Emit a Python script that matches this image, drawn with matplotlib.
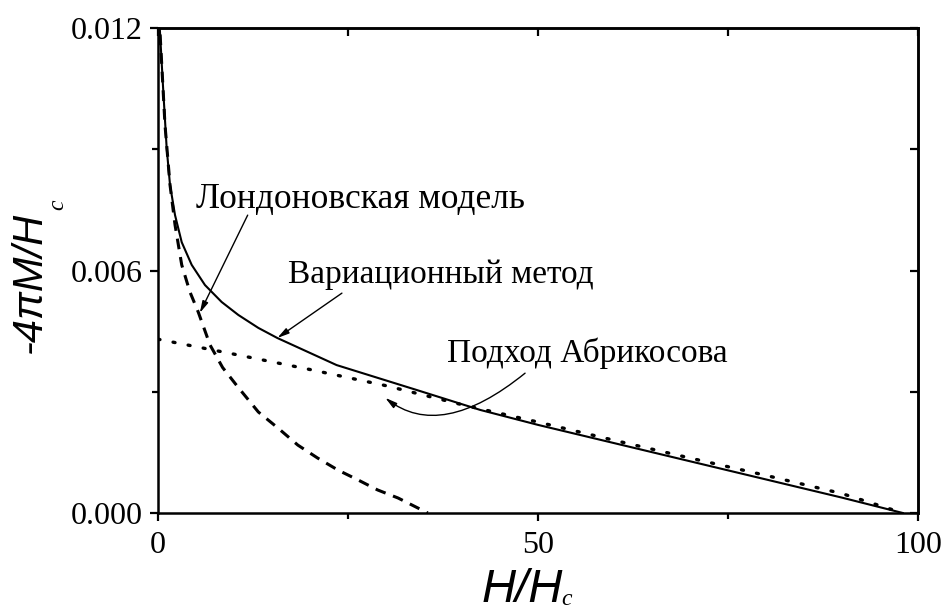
import numpy as np
import matplotlib
matplotlib.use("Agg")
import matplotlib.pyplot as plt

# --- data ---
# variational method (solid)
var_x = [0.15, 0.26, 0.70, 1.14, 1.58, 2.24, 3.12, 4.43, 6.18, 8.38, 10.57, 13.2, 15.7,
         23.5, 34.1, 42.4, 50, 60, 70, 80, 90, 98]
var_y = [0.0123, 0.0119, 0.01042, 0.00903, 0.00812, 0.00737, 0.0067, 0.00614, 0.00564,
         0.00522, 0.0049, 0.00458, 0.00433, 0.00366, 0.00304, 0.00255, 0.00218, 0.00173,
         0.00128, 0.00083, 0.00038, 0.0]

# London model (dashed)
lon_x = [0.15, 0.26, 0.92, 1.58, 2.24, 3.12, 4.2, 5.3, 6.84, 8.5, 10.5, 13.2, 15.8, 18.4,
         21, 23.7, 26.3, 28.9, 31.6, 35.5]
lon_y = [0.0123, 0.0119, 0.0096, 0.00812, 0.00713, 0.00614, 0.00547, 0.00497, 0.00416,
         0.0036, 0.00312, 0.0025, 0.0021, 0.00168, 0.00136, 0.00106, 0.00082, 0.00057,
         0.00037, 0.0]

# Abrikosov approach (dotted)
abr_x = [0, 10, 20, 30, 40, 50, 60, 70, 80, 90, 98]
abr_y = [0.0043, 0.00393, 0.00355, 0.00315, 0.00268, 0.00225, 0.00180, 0.00136,
         0.00093, 0.00048, 0.0]

xticks = [0, 50, 100]
yticks = [0.0, 0.006, 0.012]
ytick_labels = ["0.000", "0.006", "0.012"]

serif = "Liberation Serif"
sans = "Liberation Sans"

fig = plt.figure(figsize=(9.45, 6.11), dpi=100)
ax = fig.add_axes([158/945, 98/611, 760/945, 485/611])

ax.plot(var_x, var_y, color="black", lw=1.5, solid_joinstyle="round")
ax.plot(lon_x, lon_y, color="black", lw=2.2, dashes=(3.5, 2.6))
ax.plot(abr_x, abr_y, color="black", lw=2.4, dashes=(0.6, 4.0), dash_capstyle="round")

ax.set_xlim(0, 100)
ax.set_ylim(0, 0.012)
ax.set_xticks(xticks)
ax.set_xticks([25, 75], minor=True)
ax.set_yticks(yticks)
ax.set_yticklabels(ytick_labels)
ax.set_yticks([0.003, 0.009], minor=True)

for sp in ax.spines.values():
    sp.set_linewidth(1.8)

ax.tick_params(which="major", direction="out", length=6, width=1.6, labelsize=23, pad=5)
ax.tick_params(which="minor", direction="out", length=4, width=1.6)
ax.tick_params(axis="x", which="major", pad=7)
for lab in ax.get_xticklabels() + ax.get_yticklabels():
    lab.set_family(serif)

# inward ticks on top and right
top = ax.secondary_xaxis("top")
top.set_xticks(xticks)
top.set_xticks([25, 75], minor=True)
top.tick_params(which="both", direction="in", length=6, width=1.6, labeltop=False)
top.spines["top"].set_linewidth(1.8)
right = ax.secondary_yaxis("right")
right.set_yticks(yticks)
right.set_yticks([0.003, 0.009], minor=True)
right.tick_params(which="both", direction="in", length=6, width=1.6, labelright=False)
right.spines["right"].set_linewidth(1.8)

# axis labels
ax.text(-0.168, 0.475, "-4\u03c0M/H", transform=ax.transAxes, rotation=90,
        ha="center", va="center", family=sans, style="italic", fontsize=30)
ax.text(-0.132, 0.635, "c", transform=ax.transAxes, rotation=90,
        ha="center", va="center", family=serif, style="italic", fontsize=17)
ax.text(0.479, -0.158, "H/H", transform=ax.transAxes,
        ha="center", va="center", family=sans, style="italic", fontsize=34)
ax.text(0.538, -0.178, "c", transform=ax.transAxes,
        ha="center", va="center", family=serif, style="italic", fontsize=17)

# annotations
arrow = dict(arrowstyle="-|>,head_length=0.7,head_width=0.18", color="black",
             lw=1.0, shrinkA=0, shrinkB=0)
ax.annotate("", xy=(5.5, 0.00495), xytext=(11.8, 0.00737), arrowprops=arrow)
ax.annotate("", xy=(15.7, 0.00433), xytext=(24.2, 0.00544), arrowprops=arrow)
ax.annotate("", xy=(29.9, 0.00285), xytext=(48.3, 0.00346),
            arrowprops=dict(arrow, connectionstyle="angle3,angleA=-141,angleB=-38"))

ax.text(5.0, 0.00755, "Лондоновская модель", family=serif, fontsize=25.5, va="baseline")
ax.text(17.1, 0.00569, "Вариационный метод", family=serif, fontsize=24, va="baseline")
ax.text(38.0, 0.00374, "Подход Абрикосова", family=serif, fontsize=24, va="baseline")

fig.savefig("out.png", dpi=100)
